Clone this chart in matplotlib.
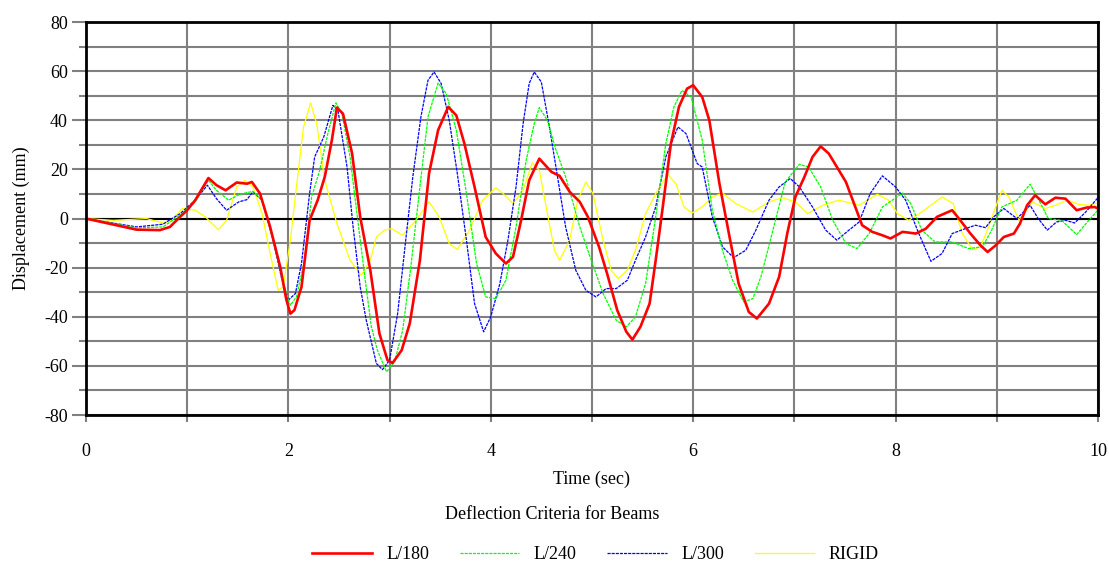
import matplotlib.pyplot as plt

plt.rcParams['font.family'] = ['Liberation Serif', 'DejaVu Serif']
plt.rcParams['axes.unicode_minus'] = False

# L/180 (red)
t_180 = [0, 0.5, 0.73, 0.83, 0.93, 1.0, 1.08, 1.21, 1.29, 1.38, 1.49, 1.59, 1.64, 1.72, 1.82,
         1.92, 1.98, 2.02, 2.06, 2.13, 2.21, 2.29, 2.36, 2.43, 2.48, 2.54, 2.63, 2.71, 2.81,
         2.90, 2.98, 3.03, 3.12, 3.20, 3.30, 3.39, 3.48, 3.58, 3.66, 3.74, 3.84, 3.95, 4.05,
         4.15, 4.22, 4.30, 4.38, 4.48, 4.60, 4.68, 4.78, 4.88, 4.96, 5.07, 5.15, 5.25, 5.34,
         5.40, 5.48, 5.57, 5.63, 5.70, 5.78, 5.86, 5.94, 6.0, 6.09, 6.16, 6.26, 6.36, 6.45,
         6.55, 6.63, 6.75, 6.85, 6.93, 7.01, 7.10, 7.18, 7.26, 7.34, 7.44, 7.51, 7.59, 7.67,
         7.77, 7.87, 7.95, 8.07, 8.20, 8.30, 8.41, 8.56, 8.64, 8.74, 8.84, 8.91, 8.99, 9.07,
         9.17, 9.23, 9.30, 9.38, 9.48, 9.58, 9.68, 9.79, 9.89, 9.97, 10.0]
d_180 = [0, -4.5, -4.7, -3.4, 0.7, 3.4, 7.5, 16.5, 13.6, 11.5, 14.7, 14.2, 14.9, 10.2, -3.4,
         -19.7, -33, -38.7, -37.3, -27.8, -0.7, 7.5, 17, 31.9, 45.2, 42.7, 26.5, 0.7, -21,
         -46.8, -57.7, -58.8, -53.6, -42.7, -17, 18.3, 36, 45.5, 42, 30.5, 12.9, -7.5, -14.2,
         -18.3, -15.6, -0.7, 15.6, 24.4, 19, 17.4, 10.9, 6.8, 0.7, -11.5, -22.4, -37.3, -46.1,
         -49.3, -44, -34.6, -17, 4.7, 30.5, 45.5, 52.9, 54.3, 49.5, 40, 14.2, -7.5, -26.5,
         -38, -40.7, -34.6, -23.7, -6.1, 8.8, 17, 25.1, 29.4, 26.5, 19.7, 14.9, 6.1, -2.7,
         -5.4, -6.8, -8.1, -5.4, -6.1, -4.1, 0.7, 3.4, -0.7, -6.1, -10.9, -13.6, -10.9, -7.5,
         -6.1, -2, 5.4, 9.5, 5.8, 8.5, 8.1, 3.4, 4.5, 4.7, 4.1]

# L/240 (green)
t_240 = [0, 0.5, 0.76, 0.93, 1.08, 1.21, 1.29, 1.41, 1.52, 1.65, 1.74, 1.85, 1.95, 2.02, 2.08,
         2.16, 2.23, 2.31, 2.39, 2.47, 2.53, 2.61, 2.67, 2.76, 2.82, 2.88, 2.97, 3.05, 3.13,
         3.21, 3.30, 3.38, 3.48, 3.56, 3.66, 3.76, 3.86, 3.95, 4.05, 4.15, 4.25, 4.35, 4.43,
         4.48, 4.56, 4.64, 4.74, 4.88, 4.97, 5.11, 5.24, 5.34, 5.43, 5.53, 5.63, 5.73, 5.81,
         5.89, 5.98, 6.09, 6.19, 6.29, 6.39, 6.50, 6.59, 6.67, 6.78, 6.91, 7.05, 7.14, 7.26,
         7.38, 7.51, 7.62, 7.74, 7.87, 8.07, 8.15, 8.26, 8.39, 8.56, 8.72, 8.86, 8.95, 9.05,
         9.20, 9.33, 9.40, 9.51, 9.64, 9.79, 9.91, 10.0]
d_240 = [0, -3.8, -3.4, 1.4, 6.8, 15.6, 11.5, 7.5, 9.9, 11.1, 7.5, -8.8, -26.5, -35.3, -31.9,
         -17, 8.8, 19.7, 34.6, 47.1, 42.7, 25.1, 4.7, -25.1, -44, -53.6, -62.4, -58.3, -45.5,
         -19.7, 12.9, 41.4, 55.2, 50.9, 36, 10.2, -18.3, -31.9, -32.6, -25.1, -3.4, 23.7, 38.7,
         45.2, 40, 28.5, 17, -3.4, -14.2, -30.5, -41.4, -44.1, -40, -26.5, 0.7, 30.5, 45.5,
         52.2, 49.5, 31.9, 3.4, -12.9, -25.1, -33.9, -32.6, -23.7, -6.1, 14.9, 22.1, 21, 12.9,
         -0.7, -10.2, -12.2, -6.1, 4.7, 10.4, 6.1, -4.7, -9.5, -9.5, -12.2, -11.5, -4.7, 4.7,
         7.5, 14, 8.8, 0, -0.7, -6.5, -0.7, 3.4]

# L/300 (blue)
t_300 = [0, 0.5, 0.76, 0.93, 1.08, 1.20, 1.29, 1.39, 1.51, 1.59, 1.65, 1.74, 1.85, 1.93, 2.0,
         2.07, 2.13, 2.21, 2.26, 2.35, 2.44, 2.49, 2.58, 2.64, 2.71, 2.77, 2.87, 2.93, 3.0,
         3.08, 3.16, 3.23, 3.31, 3.38, 3.44, 3.51, 3.59, 3.67, 3.76, 3.84, 3.93, 4.0, 4.09,
         4.17, 4.25, 4.32, 4.38, 4.43, 4.50, 4.58, 4.66, 4.74, 4.84, 4.94, 5.04, 5.14, 5.24,
         5.35, 5.43, 5.53, 5.63, 5.73, 5.85, 5.93, 6.04, 6.09, 6.19, 6.29, 6.40, 6.52, 6.62,
         6.75, 6.85, 6.96, 7.05, 7.18, 7.31, 7.42, 7.54, 7.64, 7.75, 7.87, 8.0, 8.10, 8.23,
         8.35, 8.46, 8.56, 8.69, 8.79, 8.89, 8.97, 9.07, 9.20, 9.33, 9.41, 9.50, 9.59, 9.68,
         9.77, 9.88, 10.0]
d_300 = [0, -3.4, -2.3, 2, 7.5, 13.6, 8.1, 3.4, 6.8, 7.7, 10.9, 7.5, -8.8, -23.7, -33.2,
         -30.5, -18.3, 10.2, 25.1, 33.2, 46.1, 44.1, 21, -3.4, -27.8, -41.4, -59, -61.5, -57.7,
         -38.7, -8.8, 17, 41.4, 56.3, 59.7, 55, 40, 18.3, -8.8, -34.6, -46.1, -40, -26.5,
         -8.8, 12.9, 38.7, 55, 59.7, 55.6, 37.3, 17, -3.4, -21, -29.2, -31.9, -28.5, -28.5,
         -25.1, -17, -7.5, 4.7, 25.1, 37.3, 34.6, 22.4, 21, 0.7, -11.5, -15.9, -12.9, -4.7,
         7.5, 12.9, 16.3, 12.9, 4.7, -4.7, -8.8, -4.7, -1.4, 10.2, 17.4, 12.9, 7.5, -6.1,
         -17.4, -14.2, -6.1, -4.1, -2.7, -3.7, 0.7, 4.1, 0, 5.4, 0, -4.7, -1.4, -0.7,
         -1.8, 2.7, 8.5]

# RIGID (yellow)
t_rig = [0, 0.27, 0.60, 0.76, 0.85, 0.95, 1.08, 1.18, 1.31, 1.39, 1.49, 1.57, 1.65, 1.74, 1.82,
         1.90, 1.95, 2.02, 2.08, 2.15, 2.22, 2.28, 2.36, 2.48, 2.61, 2.72, 2.81, 2.87, 2.95,
         3.02, 3.13, 3.26, 3.39, 3.49, 3.59, 3.67, 3.79, 3.92, 4.05, 4.12, 4.22, 4.32, 4.41,
         4.48, 4.56, 4.63, 4.68, 4.78, 4.86, 4.94, 5.01, 5.11, 5.19, 5.26, 5.35, 5.43, 5.53,
         5.63, 5.75, 5.83, 5.91, 5.99, 6.09, 6.19, 6.29, 6.42, 6.59, 6.75, 6.88, 7.01, 7.13,
         7.28, 7.44, 7.64, 7.82, 7.93, 8.02, 8.13, 8.26, 8.46, 8.57, 8.66, 8.76, 8.84, 8.92,
         8.99, 9.05, 9.12, 9.22, 9.35, 9.48, 9.58, 9.70, 9.81, 9.91, 10.0]
d_rig = [0, -0.7, 0, -1.8, -0.7, 4.1, 3.4, 0.7, -4.5, -0.7, 12.9, 15.6, 12.9, 2, -14.2,
         -29.2, -27.8, -8.8, 12.9, 37.3, 47.1, 38.7, 15.6, -2, -17, -23.1, -17, -7.5, -4.7,
         -4.1, -6.8, -0.7, 6.8, 0.7, -10.2, -12.6, -4.7, 7.5, 12.6, 10.2, 6.1, 11.5, 22.7,
         19.7, 2, -12.9, -17, -8.8, 7.5, 14.9, 10.2, -8.8, -21, -24.4, -21, -12.9, 2,
         10.2, 18, 14.2, 4.7, 2.3, 4.7, 8.8, 10.4, 6.1, 2.7, 6.8, 8.5, 6.8, 2,
         5.4, 7.5, 5.4, 9.9, 7.5, 2, -0.7, 2.7, 8.8, 6.1, -6.1, -12.6, -11.5, -3.4,
         4.7, 11.5, 8.8, -0.7, 6.8, 4.1, 5.4, 7.5, 5.8, 5.4, 6.4]

fig = plt.figure(figsize=(11.09, 5.67), dpi=100)
ax = fig.add_axes([0.0775, 0.268, 0.9125, 0.693])

ax.plot(t_rig, d_rig, color='#ffff00', lw=0.9, label='RIGID', zorder=3)
ax.plot(t_300, d_300, color='#0000ff', lw=0.9, ls=(0, (2.5, 0.8)), label='L/300', zorder=4)
ax.plot(t_240, d_240, color='#00ff00', lw=0.9, ls=(0, (2.5, 0.8)), label='L/240', zorder=5)
ax.plot(t_180, d_180, color='#ff0000', lw=1.9, label='L/180', zorder=6)

ax.set_xlim(0, 10)
ax.set_ylim(-80, 80)
ax.set_xticks(range(0, 11, 2))
ax.set_xticks(range(0, 11), minor=True)
ax.set_yticks(range(-80, 81, 20))
ax.set_yticks(range(-80, 81, 10), minor=True)
ax.grid(True, which='both', color='#808080', lw=1.5, zorder=1)
ax.axhline(0, color='black', lw=1.5, zorder=2)
for s in ax.spines.values():
    s.set_color('black')
    s.set_linewidth(2)
    s.set_zorder(7)
ax.tick_params(which='both', direction='out', colors='#808080', labelcolor='black',
               labelsize=13, width=1.5)
ax.tick_params(axis='x', which='both', length=5, pad=15)
ax.tick_params(axis='y', which='major', length=10, pad=3)
ax.tick_params(axis='y', which='minor', length=5)

ax.set_xlabel('Time (sec)', fontsize=13, labelpad=8)
ax.set_ylabel('Displacement (mm)', fontsize=13, labelpad=10)

fig.text(0.498, 0.092, 'Deflection Criteria for Beams', ha='center', va='center', fontsize=13)

h, l = ax.get_legend_handles_labels()
order = [3, 2, 1, 0]
fig.legend([h[i] for i in order], [l[i] for i in order], loc='center', ncol=4,
           bbox_to_anchor=(0.537, 0.022), frameon=False, fontsize=13,
           handlelength=3.3, columnspacing=1.7, handletextpad=0.8)

fig.savefig('out.png', dpi=100)
